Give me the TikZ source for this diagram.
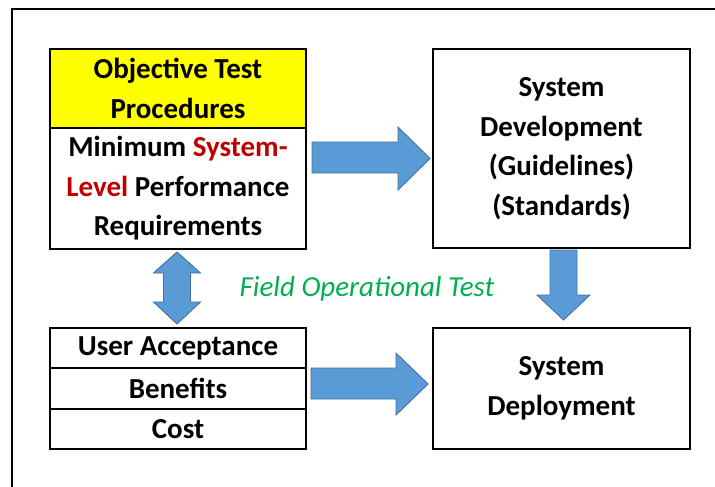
\documentclass[tikz,border=0pt]{standalone}
\usepackage{fontspec}
\setmainfont{Carlito}
\definecolor{arrowblue}{RGB}{91,155,213}
\definecolor{arrowedge}{RGB}{65,113,156}
\definecolor{sysred}{RGB}{192,0,0}
\definecolor{fieldgreen}{RGB}{0,176,80}
\definecolor{procyellow}{RGB}{255,255,0}
\begin{document}
\begin{tikzpicture}[x=1pt,y=-1pt,
  box/.style={draw=black, line width=1.4pt, inner sep=0pt, align=center,
    font=\bfseries\fontsize{29}{39.5}\selectfont},
  blockarrow/.style={draw=arrowedge, line width=0.9pt, fill=arrowblue, line join=miter}]
\useasboundingbox (0,0) rectangle (715,487);
\fill[white] (0,0) rectangle (715,487);
% outer frame, top and left edges only
\draw[line width=2.5pt] (12,490) -- (12,9) -- (718,9);

% left column: procedures and requirements
\node[box, fill=procyellow, minimum width=256pt, minimum height=79pt] (proc) at (178,88.5)
  {Objective Test\\Procedures};
\node[box, minimum width=256pt, minimum height=121pt] (req) at (178,188.5)
  {Minimum \textcolor{sysred}{System-}\\\textcolor{sysred}{Level} Performance\\Requirements};

% right column: development
\node[box, minimum width=257pt, minimum height=199pt] (dev) at (561.5,148.5)
  {System\\Development\\(Guidelines)\\(Standards)};

% bottom left: acceptance criteria
\node[box, minimum width=256pt, minimum height=40pt] (user) at (178,348) {User Acceptance};
\node[box, minimum width=256pt, minimum height=41pt] (ben) at (178,388.5) {Benefits};
\node[box, minimum width=256pt, minimum height=40pt] (cost) at (178,429) {Cost};

% bottom right: deployment
\node[box, minimum width=257pt, minimum height=121pt] (dep) at (561.5,388.5)
  {System\\Deployment};

% block arrows
% requirements -> development
\draw[blockarrow] (312,142) -- (398,142) -- (398,127) -- (430,158.5)
  -- (398,190) -- (398,173) -- (312,173) -- cycle;
% acceptance criteria -> deployment
\draw[blockarrow] (311,368) -- (396,368) -- (396,353) -- (428,384)
  -- (396,415) -- (396,399) -- (311,399) -- cycle;
% development -> deployment
\draw[blockarrow] (550,250) -- (577,250) -- (577,295) -- (590,295)
  -- (563.5,320) -- (537,295) -- (550,295) -- cycle;
% requirements <-> acceptance criteria
\draw[blockarrow] (177,252) -- (200.5,273) -- (190.5,273) -- (190.5,302)
  -- (200.5,302) -- (177,324) -- (153.5,302) -- (163.5,302)
  -- (163.5,273) -- (153.5,273) -- cycle;

% label
\node[text=fieldgreen, font=\itshape\fontsize{29}{35}\selectfont] (field) at (367,289)
  {Field Operational Test};
\end{tikzpicture}
\end{document}
